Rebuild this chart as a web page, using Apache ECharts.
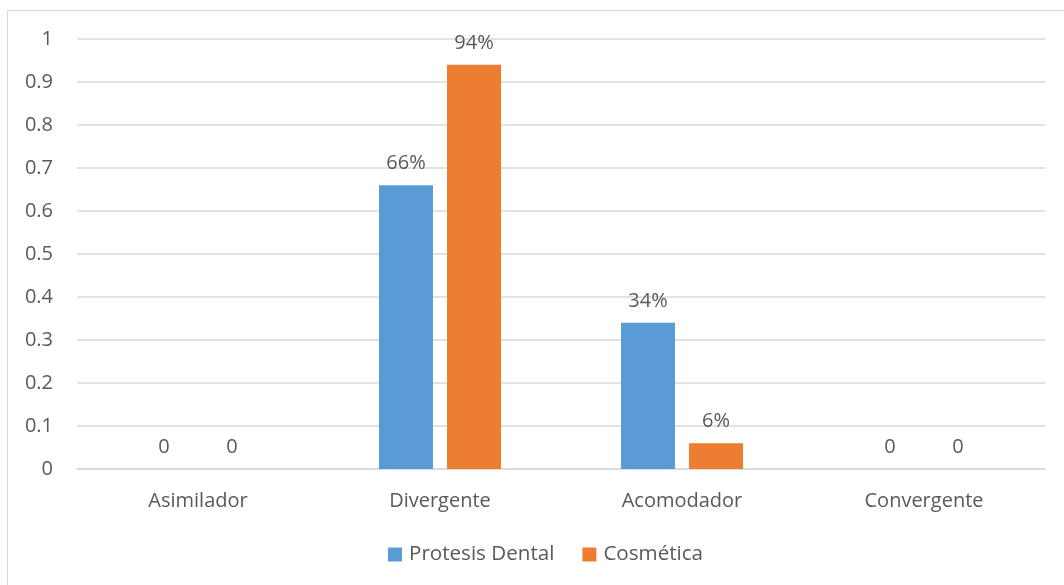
<!DOCTYPE html>
<html><head><meta charset="utf-8">
<style>
html,body{margin:0;padding:0;background:#fff;}
#frame{position:absolute;left:7px;top:10px;width:1100px;height:620px;border:1.5px solid #D9D9D9;box-sizing:border-box;}
#main{position:absolute;left:0;top:0;width:1064px;height:585px;}
</style>
<script src="https://cdn.jsdelivr.net/npm/echarts@6/dist/echarts.min.js"></script>
</head><body>
<div id="frame"></div>
<div id="main"></div>
<script>
const categories = ['Asimilador', 'Divergente', 'Acomodador', 'Convergente'];
const seriesNames = ['Protesis Dental', 'Cosmética'];
const protesis = [0, 0.66, 0.34, 0];
const cosmetica = [0, 0.94, 0.06, 0];
const colors = ['#5B9BD5', '#ED7D31'];

const font = '"Open Sans", "Noto Sans", sans-serif';
const txt = '#595959';
const fs = 20;
function fmt(p) { return p.value === 0 ? '0' : Math.round(p.value * 100) + '%'; }

const chart = echarts.init(document.getElementById('main'));
chart.setOption({
  animation: false,
  color: colors,
  textStyle: { fontFamily: font },
  grid: { left: 77, right: 19, top: 39, bottom: 116, containLabel: false },
  legend: {
    bottom: 15, left: 383, itemWidth: 14, itemHeight: 14, itemGap: 28,
    icon: 'rect',
    textStyle: { color: txt, fontSize: 20.6, fontFamily: font, padding: [0, 0, 0, 2] }
  },
  xAxis: {
    type: 'category', data: categories,
    axisLine: { lineStyle: { color: '#D9D9D9', width: 1.5 } },
    axisTick: { show: false },
    axisLabel: { color: txt, fontSize: fs, margin: 22, fontFamily: font }
  },
  yAxis: {
    type: 'value', min: 0, max: 1, interval: 0.1,
    axisLine: { show: false }, axisTick: { show: false },
    splitLine: { lineStyle: { color: '#D9D9D9', width: 1.5 } },
    axisLabel: { color: txt, fontSize: fs, margin: 24, fontFamily: font,
      formatter: v => String(Math.round(v * 10) / 10) }
  },
  series: [
    { name: seriesNames[0], type: 'bar', data: protesis, barWidth: 54, barGap: '26%',
      label: { show: true, position: 'top', distance: 12, color: txt, fontSize: fs, fontFamily: font, formatter: fmt } },
    { name: seriesNames[1], type: 'bar', data: cosmetica, barWidth: 54, barGap: '26%',
      label: { show: true, position: 'top', distance: 12, color: txt, fontSize: fs, fontFamily: font, formatter: fmt } }
  ]
});
</script>
</body></html>
